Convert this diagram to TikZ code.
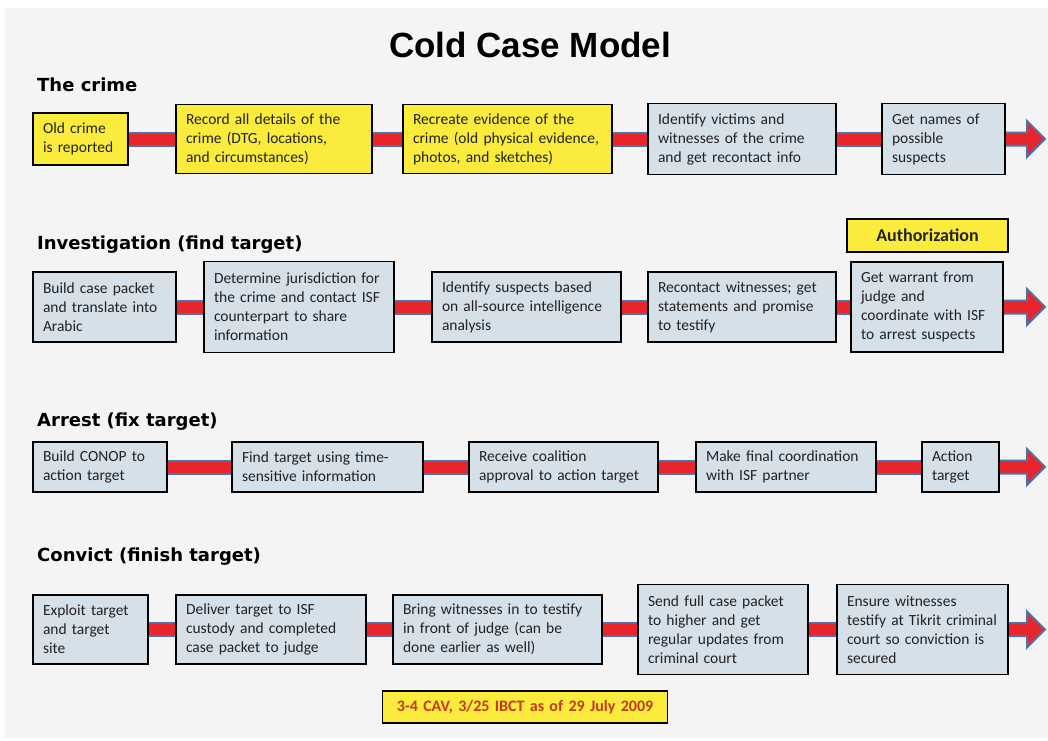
\documentclass[tikz,border=0pt]{standalone}
\usepackage{fontspec}
\setmainfont{Carlito}
\newfontfamily\headfont{DejaVu Sans}
\newfontfamily\titlefont{Liberation Sans}
\usetikzlibrary{calc,backgrounds}

\definecolor{panel}{HTML}{F4F4F4}
\definecolor{stepfill}{HTML}{D5E0E9}
\definecolor{noteyellow}{HTML}{FAEB3C}
\definecolor{barred}{HTML}{E8252B}
\definecolor{barblue}{HTML}{4A72AE}
\definecolor{footred}{HTML}{C43A1E}
\definecolor{bodytext}{HTML}{222222}

\tikzset{
  x=1pt, y=-1pt,
  stepbox/.style 2 args={draw=black, line width=1.6pt, fill=stepfill,
    inner xsep=10pt, inner ysep=0pt, text width=#1pt, minimum height=#2pt,
    align=left, text=bodytext, font=\fontsize{15.5}{19}\selectfont},
  yellowbox/.style 2 args={stepbox={#1}{#2}, fill=noteyellow},
  heading/.style={anchor=base west, inner sep=0pt,
    font=\headfont\bfseries\fontsize{18}{22}\selectfont},
  bar/.style={draw=barblue, line width=2pt, double=barred, double distance=11pt},
}

\begin{document}
\begin{tikzpicture}
\useasboundingbox (0,0) rectangle (1048,740);

% title and section headings
\node[anchor=base, inner sep=0pt, font=\titlefont\bfseries\fontsize{35}{40}\selectfont] (title) at (530,57) {Cold Case Model};
\node[heading] (h1) at (37,91) {The crime};
\node[heading] (h2) at (37,249) {Investigation (find target)};
\node[heading] (h3) at (37,426) {Arrest (fix target)};
\node[heading] (h4) at (37,561) {Convict (finish target)};

% the crime
\node[yellowbox={75}{52}] (c1) at (80.5,139) {Old crime\\is reported};
\node[yellowbox={176}{69}] (c2) at (274,139) {Record all details of the\\crime (DTG, locations,\\and circumstances)};
\node[yellowbox={189}{69}] (c3) at (507.5,139) {Recreate evidence of the\\crime (old physical evidence,\\photos, and sketches)};
\node[stepbox={168}{71}] (c4) at (742,139) {Identify victims and\\witnesses of the crime\\and get recontact info};
\node[stepbox={103}{71}] (c5) at (943.5,139) {Get names of\\possible\\suspects};

% investigation
\node[stepbox={123}{70}] (i1) at (104.5,307) {Build case packet\\and translate into\\Arabic};
\node[stepbox={170}{91}] (i2) at (299,307) {Determine jurisdiction for\\the crime and contact ISF\\counterpart to share\\information};
\node[stepbox={169}{70}] (i3) at (526.5,307) {Identify suspects based\\on all-source intelligence\\analysis};
\node[stepbox={168}{70}] (i4) at (742,307) {Recontact witnesses; get\\statements and promise\\to testify};
\node[stepbox={132}{90}] (i5) at (927,307) {Get warrant from\\judge and\\coordinate with ISF\\to arrest suspects};
\node[yellowbox={141}{33}, align=center, font=\bfseries\fontsize{18}{22}\selectfont] (auth) at (927.5,235.5) {Authorization};

% arrest
\node[stepbox={114}{50}] (a1) at (100,467) {Build CONOP to\\action target};
\node[stepbox={171}{50}] (a2) at (327.5,467) {Find target using time-\\sensitive information};
\node[stepbox={169}{50}] (a3) at (563.5,467) {Receive coalition\\approval to action target};
\node[stepbox={160}{50}] (a4) at (786,467) {Make final coordination\\with ISF partner};
\node[stepbox={57}{50}] (a5) at (960.5,467) {Action\\target};

% convict
\node[stepbox={95}{69}] (v1) at (90.5,629.5) {Exploit target\\and target\\site};
\node[stepbox={170}{69}] (v2) at (271,629.5) {Deliver target to ISF\\custody and completed\\case packet to judge};
\node[stepbox={189}{69}] (v3) at (497.5,629.5) {Bring witnesses in to testify\\in front of judge (can be\\done earlier as well)};
\node[stepbox={150}{90}] (v4) at (723,629.5) {Send full case packet\\to higher and get\\regular updates from\\criminal court};
\node[stepbox={151}{90}] (v5) at (922.5,629.5) {Ensure witnesses\\testify at Tikrit criminal\\court so conviction is\\secured};

% footer note
\node[yellowbox={265}{32}, align=center, text=footred, font=\bfseries\fontsize{16}{20}\selectfont] (note) at (525,707) {3-4 CAV, 3/25 IBCT as of 29 July 2009};

% arrow tips at the end of each row
\coordinate (t1) at (1045,139);
\coordinate (t2) at (1045,307);
\coordinate (t3) at (1045,467);
\coordinate (t4) at (1045,629.5);

\begin{scope}[on background layer]
  \fill[white] (0,0) rectangle (1048,740);
  \fill[panel] (5,8) rectangle (1048,738);
  \foreach \a/\b in {c1/c2,c2/c3,c3/c4,c4/c5,
                     i1/i2,i2/i3,i3/i4,i4/i5,
                     a1/a2,a2/a3,a3/a4,a4/a5,
                     v1/v2,v2/v3,v3/v4,v4/v5}
    \draw[bar] (\a.east) -- (\b.west);
  \foreach \b/\t in {c5/t1,i5/t2,a5/t3,v5/t4}{
    \fill[barred] ($(\b.east)+(0,-6.5)$) -- ($(\t)+(-18,-6.5)$) -- ($(\t)+(-18,-18)$)
      -- (\t) -- ($(\t)+(-18,18)$) -- ($(\t)+(-18,6.5)$) -- ($(\b.east)+(0,6.5)$) -- cycle;
    \draw[barblue, line width=2pt, line join=miter] ($(\b.east)+(0,-6.5)$) -- ($(\t)+(-18,-6.5)$) -- ($(\t)+(-18,-18)$)
      -- (\t) -- ($(\t)+(-18,18)$) -- ($(\t)+(-18,6.5)$) -- ($(\b.east)+(0,6.5)$);
  }
\end{scope}
\end{tikzpicture}
\end{document}
